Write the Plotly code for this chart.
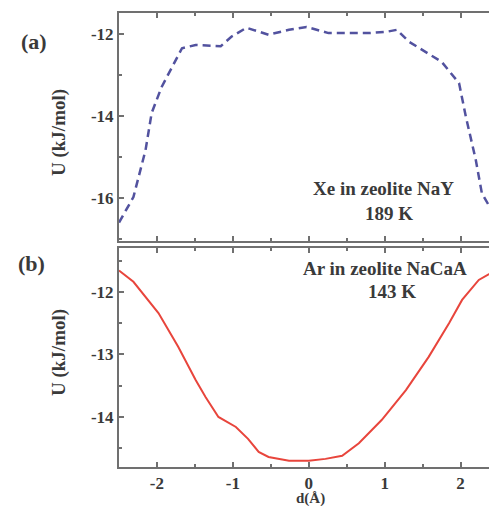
import plotly.graph_objects as go

# Panel (a): Xe in zeolite NaY, 189 K
xe_d = [-2.5, -2.31, -2.15, -2.07, -1.94, -1.67, -1.49, -1.16, -1.02, -0.82, -0.53, -0.26, -0.03,
        0.26, 0.53, 0.79, 1.02, 1.16, 1.32, 1.75, 1.98, 2.07, 2.2, 2.28, 2.5]
xe_u = [-16.6, -15.98, -14.83, -13.93, -13.3, -12.35, -12.27, -12.3, -12.07, -11.85, -12.02, -11.9, -11.83,
        -11.98, -11.98, -11.98, -11.95, -11.9, -12.19, -12.68, -13.2, -14.02, -15.07, -15.88, -16.6]

# Panel (b): Ar in zeolite NaCaA, 143 K
ar_d = [-2.5, -2.31, -1.98, -1.72, -1.49, -1.36, -1.19, -0.96, -0.8, -0.66, -0.53, -0.26, 0.0,
        0.22, 0.44, 0.66, 0.96, 1.28, 1.58, 1.85, 2.02, 2.24, 2.5]
ar_u = [-11.66, -11.84, -12.34, -12.88, -13.41, -13.68, -14.0, -14.16, -14.35, -14.56, -14.64, -14.7, -14.7,
        -14.67, -14.62, -14.42, -14.05, -13.57, -13.04, -12.5, -12.13, -11.81, -11.63]

x_ticks = [-2, -1, 0, 1, 2]
x_labels = ["-2", "-1", "0", "1", "2"]
ya_ticks = [-12, -14, -16]
ya_labels = ["-12", "-14", "-16"]
yb_ticks = [-12, -13, -14]
yb_labels = ["-12", "-13", "-14"]

FONT = "Liberation Serif"
AX = "#707070"
TXT = "#3a3a3a"

OFF = 8  # default page body margin
PAGE_W, PAGE_H = 497, 506
W, H = PAGE_W - OFF, PAGE_H - OFF
# plot area in page pixels
P_L, P_R, P_T, P_B = 119, 497, 13, 467
ML, MR, MT, MB = P_L - OFF, 0, P_T - OFF, H - (P_B - OFF)
PW, PH = W - ML - MR, H - MT - MB


def px(xp, yp):
    """page pixel -> paper coords"""
    return (xp - OFF - ML) / PW, (H - MB - (yp - OFF)) / PH


fig = go.Figure()
fig.add_trace(go.Scatter(x=xe_d, y=xe_u, mode="lines", xaxis="x", yaxis="y",
                         line=dict(color="#52529f", width=2.5, dash="8px,5px"), showlegend=False))
fig.add_trace(go.Scatter(x=ar_d, y=ar_u, mode="lines", xaxis="x2", yaxis="y2",
                         line=dict(color="#e8453c", width=2), showlegend=False))

tickfont = dict(family=FONT, size=17, color=TXT, weight="bold")
common_x = dict(range=[-2.5, 2.48], showline=True, linecolor=AX, linewidth=2, mirror="ticks",
                ticks="inside", tickcolor=AX, ticklen=5, tickwidth=1.5, showgrid=False, zeroline=False,
                tickvals=x_ticks, ticktext=x_labels, automargin=False,
                minor=dict(ticks="inside", dtick=0.5, ticklen=3, tickcolor=AX, showgrid=False),
                tickfont=tickfont)
common_y = dict(showline=True, linecolor=AX, linewidth=2, ticks="inside", tickcolor=AX, ticklen=5,
                tickwidth=1.5, showgrid=False, zeroline=False, tickfont=tickfont, automargin=False)

a_top, a_bot = 13, 241
b_top, b_bot = 248, 467

fig.update_layout(
    width=W, height=H,
    template="none",
    margin=dict(l=ML, r=MR, t=MT, b=MB, autoexpand=False),
    paper_bgcolor="white", plot_bgcolor="white",
    xaxis=dict(common_x, domain=[0, 1], anchor="y", showticklabels=False),
    yaxis=dict(common_y, domain=[px(0, a_bot)[1], px(0, a_top)[1]], range=[-17.05, -11.49], anchor="x",
               tickvals=ya_ticks, ticktext=ya_labels,
               minor=dict(ticks="inside", dtick=1, ticklen=3, tickcolor=AX)),
    xaxis2=dict(common_x, domain=[0, 1], anchor="y2", ticklabelstandoff=0),
    yaxis2=dict(common_y, domain=[px(0, b_bot)[1], px(0, b_top)[1]], range=[-14.8, -11.3], anchor="x2",
                tickvals=yb_ticks, ticktext=yb_labels,
                minor=dict(ticks="inside", dtick=0.5, ticklen=3, tickcolor=AX)),
)

anns = [
    ("<b>(a)</b>", 34, 41, 22, 0),
    ("<b>(b)</b>", 31, 264, 22, 0),
    ("<b>U (kJ/mol)</b>", 59, 133, 19, -90),
    ("<b>U (kJ/mol)</b>", 59, 353, 19, -90),
    ("<b>d(Å)</b>", 310, 498, 15, 0),
    ("<b>Xe in zeolite NaY</b>", 383, 188, 19, 0),
    ("<b>189 K</b>", 389, 213, 19, 0),
    ("<b>Ar in zeolite NaCaA</b>", 385, 268, 19, 0),
    ("<b>143 K</b>", 392, 291, 19, 0),
]
for text, xp, yp, size, ang in anns:
    ax_, ay_ = px(xp, yp)
    fig.add_annotation(text=text, x=ax_, y=ay_, xref="paper", yref="paper", showarrow=False,
                       textangle=ang, xanchor="center", yanchor="middle",
                       font=dict(family=FONT, size=size, color=TXT))

fig.write_html("out.html")
